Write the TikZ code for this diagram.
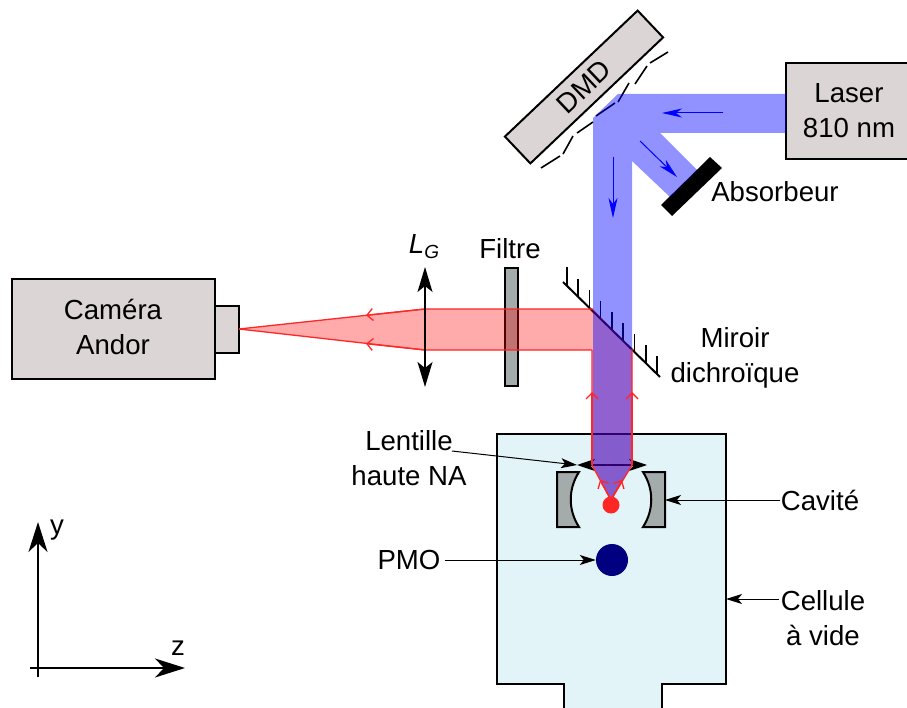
\documentclass[tikz,border=0pt]{standalone}
\usepackage{fontspec}
\setmainfont{Liberation Sans}
\usepackage{tikz}
\usetikzlibrary{positioning,arrows.meta}

\definecolor{boxgray}{HTML}{DBD5D5}
\definecolor{optgray}{HTML}{A4ABAB}
\definecolor{cellblue}{HTML}{E2F4F8}
\definecolor{pmoblue}{HTML}{000080}

\begin{document}
\begin{tikzpicture}[
  x=1pt, y=-1pt,
  lab/.style={font=\fontsize{27.6}{35}\selectfont, align=center, inner sep=0pt},
  box/.style={draw, line width=2pt, fill=boxgray, lab, outer sep=0pt},
  opt/.style={draw, line width=2pt, fill=optgray},
  big/.style={{Stealth[length=25pt,width=15pt,inset=6pt]}-{Stealth[length=25pt,width=15pt,inset=6pt]}, line width=1.5pt},
  bigone/.style={-{Stealth[length=30pt,width=19pt,inset=9pt]}, line width=1.8pt},
  ptr/.style={-{Stealth[length=16pt,width=10pt,inset=4pt]}, line width=1pt},
  blueray/.style={blue, line width=1pt, -{Stealth[length=20pt,width=9pt,inset=6pt]}},
  redray/.style={red!85!white, line width=1.3pt},
  redtip/.style={redray, -{Straight Barb[length=6pt,width=12pt]}},
  micro/.style={line width=1.6pt}
]
\clip (0,0) rectangle (907,708);
\useasboundingbox (0,0) rectangle (907,708);

% cell
\draw[line width=2pt, fill=cellblue] (497,434) -- (726,434) -- (726,684) -- (662,684) -- (662,712) -- (564,712) -- (564,684) -- (497,684) -- cycle;
\coordinate (cellwall) at (726,599);

% boxes
\node[box, minimum width=203pt, minimum height=100pt] (cam) at (113.5,329) {};
\node[box, minimum width=24pt, minimum height=47pt, right=0pt of cam.east, yshift=-0.5pt] (snout) {};
\node[lab] (camtxt) at (113,327) {Caméra\\Andor};
\node[box, minimum width=130pt, minimum height=96pt] (laser) at (851,111) {};
\node[lab] (lasertxt) at (849,111) {Laser\\810 nm};
\node[box, rotate=43.5, minimum width=183pt, minimum height=37pt] (dmd) at (584,87) {DMD};
\node[opt, minimum width=13pt, minimum height=118pt, inner sep=0pt] (filtre) at (511,327) {};

% micro mirrors
\draw[micro] (668,52) -- (650,63);
\draw[micro] (647,66) -- (635,84);
\draw[micro] (629,83) -- (618,102);
\draw[micro] (615,103) -- (596,116);
\draw[micro] (593,122) -- (577,133);
\draw[micro] (573,136) -- (563,154);
\draw[micro] (560,156) -- (541,168);

% absorber
\fill (661,205) -- (672,216) -- (722,168) -- (710,157) -- cycle;

% dichroic mirror
\draw[line width=2pt] (563,282) -- (660,377);
\foreach \i in {0,...,8} {
  \draw[line width=1.6pt] ({566.7+11.3*\i},{285.5+11.1*\i}) -- ++(0,-18);
}

% high NA lens
\coordinate (na1) at (577,465);
\coordinate (na2) at (647,465);
\draw[line width=1.5pt, {Stealth[length=18pt,width=12pt,inset=5pt]}-{Stealth[length=18pt,width=12pt,inset=5pt]}] (na1) -- (na2);

% cavity
\draw[opt] (579,472) -- (557,472) -- (557,527) -- (579,527) .. controls (568,510) and (568,489) .. (579,472) -- cycle;
\draw[opt] (643,472) -- (665,472) -- (665,527) -- (643,527) .. controls (654,510) and (654,489) .. (643,472) -- cycle;
\coordinate (cavr) at (665,500);

% beams
\coordinate (rtip) at (239,329);
\coordinate (ga) at (425,309);
\coordinate (gb) at (425,350);
\coordinate (ma) at (593,309);
\coordinate (mb) at (592,350);
\coordinate (mc) at (632,349);
\coordinate (la) at (592,465);
\coordinate (lb) at (632,465);
\coordinate (foc) at (611,500);
\fill[red, opacity=.33] (rtip) -- (ga) -- (ma) -- (mc) -- (lb) -- (foc) -- (la) -- (mb) -- (gb) -- cycle;
\fill[blue, opacity=.43] (786,94) -- (618,94) -- (593,118) -- (593,465) -- (foc) -- (632,465) -- (632,161) -- (670,197) -- (697,170) -- (660,133) -- (786,133) -- cycle;

% red rays
\draw[redray] (rtip) -- (ga) -- (ma);
\draw[redray] (rtip) -- (gb) -- (mb);
\draw[redray] (mb) -- (la) -- (foc);
\draw[redray] (mc) -- (lb) -- (foc);
\draw[redtip] (ga) -- (366,315.3);
\draw[redtip] (gb) -- (366,343.7);
\draw[redtip] (la) -- (592,392);
\draw[redtip] (lb) -- (632,392);
\draw[redtip] (foc) -- (600,480);
\draw[redtip] (foc) -- (622,480);

% blue rays
\draw[blueray] (723,113) -- (662,113);
\draw[blueray] (640,141) -- (677,177);
\draw[blueray] (613,157) -- (613,218);

% lens LG
\coordinate (lgtop) at (425,267);
\coordinate (lgbot) at (425,387);
\draw[big] (lgtop) -- (lgbot);

% atoms
\node[circle, fill=red!85!white, minimum size=17pt, inner sep=0pt] (dot) at (611,505) {};
\node[circle, fill=pmoblue, minimum size=32pt, inner sep=0pt] (pmo) at (612,560) {};

% labels
\node[lab] (lgtxt) at (424,247) {\textit{L}\raisebox{-5pt}{\fontsize{19}{19}\selectfont\textit{G}}};
\node[lab] (filtretxt) at (510,249) {Filtre};
\node[lab] (abstxt) at (775,192) {Absorbeur};
\node[lab] (mirtxt) at (735,358) {Miroir\\dichroïque};
\node[lab] (lenstxt) at (409,458) {Lentille\\haute NA};
\node[lab] (pmotxt) at (409,560) {PMO};
\node[lab] (cavtxt) at (820,500) {Cavité};
\node[lab] (celltxt) at (823,618) {Cellule\\à vide};
\coordinate (lensfrom) at (452,451);
\coordinate (cellfrom) at (779,599);
\draw[ptr] (lensfrom) -- (na1);
\draw[ptr] (pmotxt.east) ++(4,0) -- (pmo.west);
\draw[ptr] (cavtxt.west) ++(-1,0) -- (cavr);
\draw[ptr] (cellfrom) -- (cellwall);

% axes
\coordinate (yfrom) at (38,677);
\coordinate (yto) at (38,522);
\coordinate (zfrom) at (30,668);
\coordinate (zto) at (185,668);
\draw[bigone] (yfrom) -- (yto);
\draw[bigone] (zfrom) -- (zto);
\node[lab] (ytxt) at (57,530) {y};
\node[lab] (ztxt) at (178,648) {z};
\end{tikzpicture}
\end{document}
